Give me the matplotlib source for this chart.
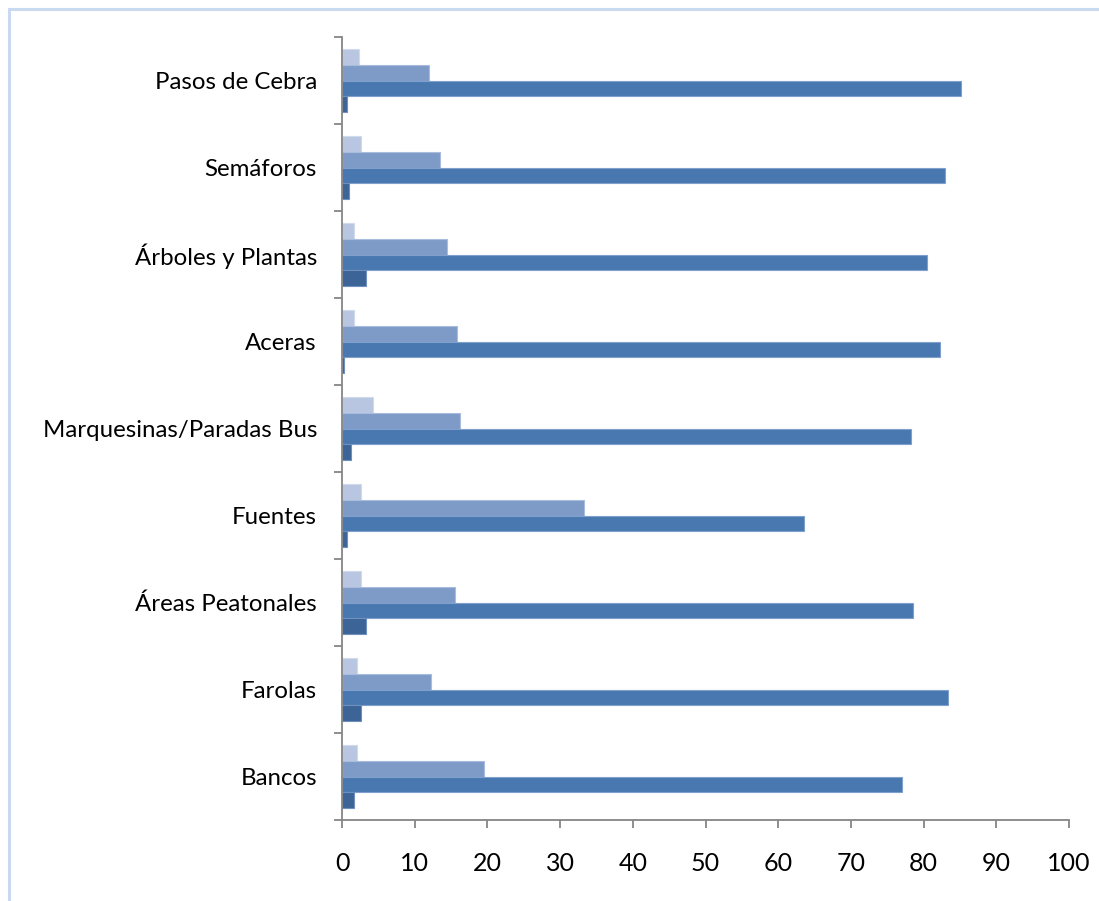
import numpy as np
import matplotlib.pyplot as plt
from matplotlib.patches import Rectangle
from matplotlib.ticker import FixedLocator

# Categories listed top to bottom as in the chart
categories = [
    "Pasos de Cebra",
    "Semáforos",
    "Árboles y Plantas",
    "Aceras",
    "Marquesinas/Paradas Bus",
    "Fuentes",
    "Áreas Peatonales",
    "Farolas",
    "Bancos",
]

# Four series, drawn top to bottom within each group
serie_1 = [2.3, 2.6, 1.7, 1.7, 4.3, 2.6, 2.6, 2.0, 2.0]
serie_2 = [12.0, 13.5, 14.5, 15.8, 16.2, 33.3, 15.5, 12.2, 19.6]
serie_3 = [85.2, 82.9, 80.5, 82.3, 78.3, 63.5, 78.6, 83.3, 77.0]
serie_4 = [0.7, 1.0, 3.3, 0.3, 1.3, 0.7, 3.3, 2.6, 1.7]

x_ticks = list(range(0, 101, 10))

colors = ["#B8C6E1", "#7E9BC8", "#4978B0", "#3C6496"]
edge_colors = ["#D0DAEC", "#A9BCDD", "#7FA0CC", "#6F8FBE"]

plt.rcParams["font.family"] = ["Lato", "DejaVu Sans"]

fig = plt.figure(figsize=(10.99, 9.01), dpi=100)
ax = fig.add_axes([0.3112, 0.0899, 0.9727 - 0.3112, 0.9589 - 0.0899])

# Outer chart frame (light blue)
fig.patches.append(
    Rectangle((9 / 1099, -0.05), 1.2, 1 - 9 / 901 + 0.05, transform=fig.transFigure,
              fill=False, edgecolor="#C9D9F0", linewidth=2.2, zorder=0)
)

y = np.arange(len(categories))
h = 0.181
series = [serie_1, serie_2, serie_3, serie_4]
for i, vals in enumerate(series):
    offset = (i - 1.5) * h
    ax.barh(y + offset, vals, height=h, color=colors[i],
            edgecolor=edge_colors[i], linewidth=0.8, zorder=2)

ax.set_xlim(0, 100)
ax.set_ylim(len(categories) - 0.5, -0.5)

ax.set_xticks(x_ticks)
ax.set_xticklabels([str(t) for t in x_ticks], fontsize=18)
ax.set_yticks(y)
ax.set_yticklabels(categories, fontsize=17.3)
ax.yaxis.set_minor_locator(FixedLocator(np.arange(-0.5, len(categories), 1.0)))

ax.tick_params(axis="y", which="major", length=0, pad=18)
ax.tick_params(axis="y", which="minor", length=6, width=1.3, color="#868686", direction="out")
ax.tick_params(axis="x", which="major", length=6, width=1.3, color="#868686", direction="out", pad=17)

for s in ["top", "right"]:
    ax.spines[s].set_visible(False)
for s in ["left", "bottom"]:
    ax.spines[s].set_color("#868686")
    ax.spines[s].set_linewidth(1.3)

fig.savefig("out.png", dpi=100)
